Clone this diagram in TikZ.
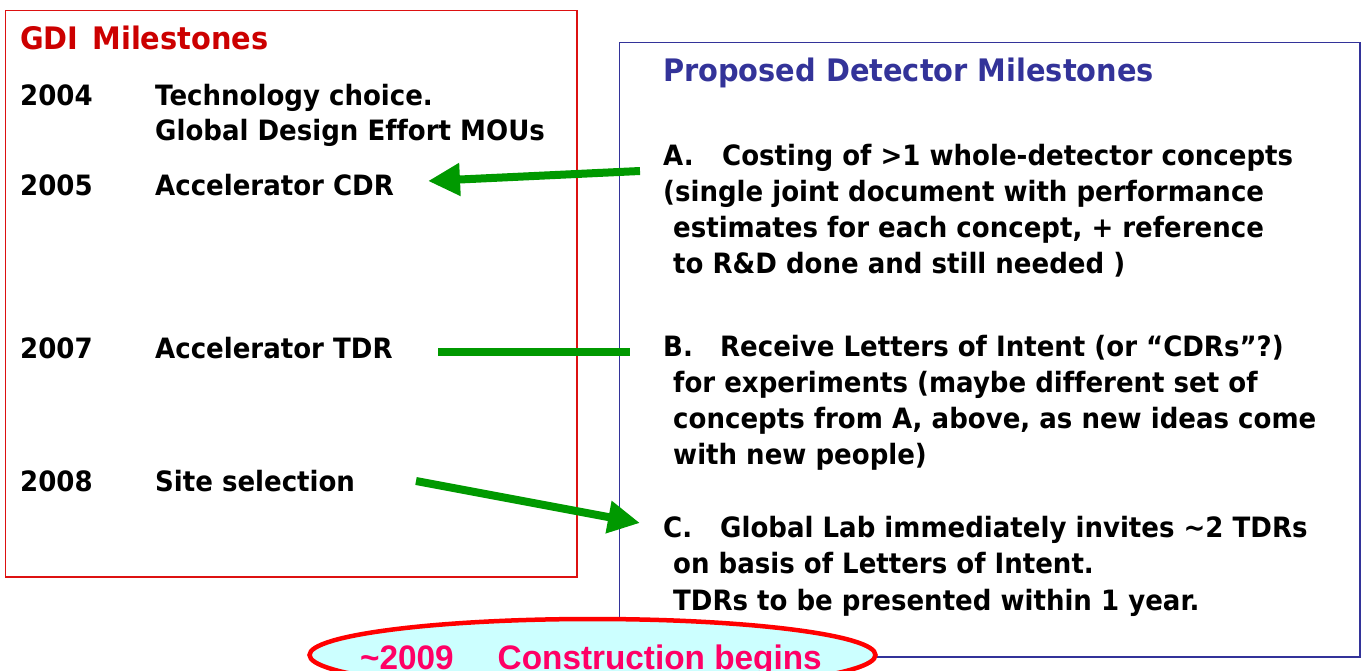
\documentclass[tikz,border=0pt]{standalone}
\usepackage{fontspec}
\setmainfont{DejaVu Sans}[FakeStretch=0.93, Ligatures={NoCommon}]
\newfontfamily\arialbold{Liberation Sans}[FakeStretch=0.98]
\usetikzlibrary{arrows.meta,shapes.geometric}
\definecolor{gdired}{HTML}{CC0000}
\definecolor{boxred}{HTML}{DD1111}
\definecolor{detblue}{HTML}{333399}
\definecolor{arrgreen}{HTML}{009900}
\definecolor{pink}{HTML}{FF0066}
\definecolor{paleCyan}{HTML}{CCFFFF}
\tikzset{
  txt/.style={anchor=base west, inner sep=0pt, font=\fontsize{28}{34}\selectfont\bfseries},
  head/.style={txt, font=\fontsize{31}{36}\selectfont\bfseries},
  greenline/.style={draw=arrgreen, line width=8pt},
  greenarrow/.style={greenline, -{Triangle[length=32pt,width=31pt]}},
}
\begin{document}
\begin{tikzpicture}[x=1pt,y=-1pt]
\useasboundingbox (0,0) rectangle (1361,671);
\clip (0,0) rectangle (1361,671);

% GDI milestones panel
\draw[boxred, line width=1.5pt] (5.5,10.5) rectangle (577,577);
\node[head, text=gdired] (gdi) at (20,50) {GDI\hspace{14pt}Milestones};
\node[txt] (y04) at (20,106) {2004};
\node[txt] (tech) at (155,106) {Technology choice.};
\node[txt] (mou) at (155,141) {Global Design Effort MOUs};
\node[txt] (y05) at (20,196) {2005};
\node[txt] (cdr) at (155,196) {Accelerator CDR};
\node[txt] (y07) at (20,359) {2007};
\node[txt] (tdr) at (155,359) {Accelerator TDR};
\node[txt] (y08) at (20,491) {2008};
\node[txt] (site) at (155,491) {Site selection};

% Detector milestones panel
\draw[detblue, line width=1.5pt] (619.5,42.5) rectangle (1360,657);
\node[head, text=detblue] (det) at (663,82) {Proposed Detector Milestones};

\node[txt] (a1) at (663,166) {\makebox[59pt][l]{A.}Costing of >1 whole-detector concepts};
\node[txt] (a2) at (663,202) {(single joint document with performance};
\node[txt] (a3) at (673,238) {estimates for each concept, + reference};
\node[txt] (a4) at (673,274) {to R\&D done and still needed )};

\node[txt] (b1) at (663,356) {\makebox[57pt][l]{B.}Receive Letters of Intent (or “CDRs”?)};
\node[txt] (b2) at (673,392) {for experiments (maybe different set of};
\node[txt] (b3) at (673,428) {concepts from A, above, as new ideas come};
\node[txt] (b4) at (673,464) {with new people)};

\node[txt] (c1) at (663,537) {\makebox[57pt][l]{C.}Global Lab immediately invites \textasciitilde 2 TDRs};
\node[txt] (c2) at (673,573) {on basis of Letters of Intent.};
\node[txt] (c3) at (673,610) {TDRs to be presented within 1 year.};

% Links between the two timelines
\coordinate (aStart) at (640,171);
\coordinate (aTip) at (428,181);
\coordinate (bLeft) at (438,352);
\coordinate (bRight) at (630,352);
\coordinate (cStart) at (416,481);
\coordinate (cTip) at (640,523);
\draw[greenarrow] (aStart) -- (aTip);
\draw[greenline] (bLeft) -- (bRight);
\draw[greenarrow] (cStart) -- (cTip);

% Construction start
\node[ellipse, draw=red, line width=4.5pt, fill=paleCyan, minimum width=566pt, minimum height=72pt, inner sep=0pt] (build) at (592.5,655) {};
\node[anchor=base west, inner sep=0pt, text=pink, font=\arialbold\fontsize{34}{40}\selectfont\bfseries] (buildtxt) at (360,669) {\textasciitilde 2009\hspace{44pt}Construction begins};
\end{tikzpicture}
\end{document}
